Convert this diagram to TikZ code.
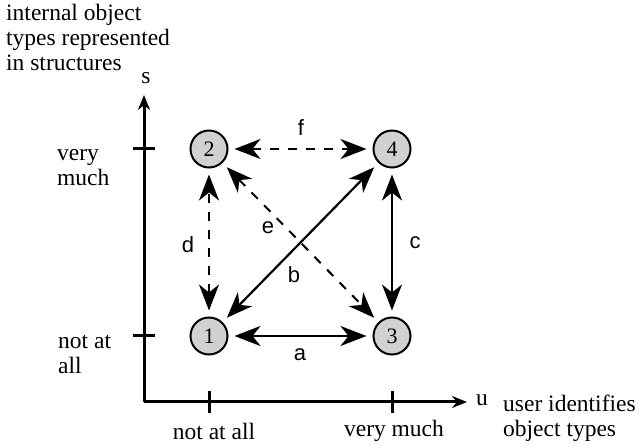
\documentclass[tikz,border=0pt]{standalone}
\usepackage{fontspec}
\setmainfont{Liberation Serif}
\newfontfamily\lblfont{Liberation Sans}
\usetikzlibrary{arrows.meta}
\begin{document}
\begin{tikzpicture}[x=1pt,y=-1pt,
  state/.style={circle,draw,line width=2pt,fill=black!18,minimum size=37pt,inner sep=0pt,
    font=\fontsize{22}{22}\selectfont,outer sep=7pt},
  axis/.style={line width=3pt},
  link/.style={line width=2.2pt,{Stealth[length=26pt,width=20pt,inset=8pt]}-{Stealth[length=26pt,width=20pt,inset=8pt]}},
  dlink/.style={link,line width=2pt,dash pattern=on 9pt off 9pt},
  elabel/.style={font=\lblfont\fontsize{22}{22}\selectfont},
  txt/.style={font=\fontsize{23.5}{25}\selectfont,align=left,inner sep=0pt}]
\useasboundingbox (0,0) rectangle (641,446);
% axes
\coordinate (O) at (144,402);
\coordinate (ytop) at (144,95);
\coordinate (xend) at (467,402);
\draw[axis,-{Stealth[length=15pt,width=12pt]}] (O) -- (ytop);
\draw[axis,-{Stealth[length=15pt,width=12pt]}] (O) -- (xend);
% ticks
\draw[axis] (209,391) -- (209,413);
\draw[axis] (392,391) -- (392,413);
\draw[axis] (133,149) -- (155,149);
\draw[axis] (133,336) -- (155,336);
% axis texts
\node[txt,anchor=north west] (ytitle) at (6,4) {internal object\\types represented\\in structures};
\node[txt] (s) at (146,78) {s};
\node[txt] (u) at (482,400) {u};
\node[txt,anchor=west] (xtitle) at (503,418) {user identifies\\object types};
\node[txt,anchor=west] (vm) at (57,168) {very\\much};
\node[txt,anchor=west] (na) at (58,355) {not at\\all};
\node[txt] (xna) at (214,431) {not at all};
\node[txt] (xvm) at (394,431) {very much};
% states
\node[state] (n1) at (209,336) {1};
\node[state] (n2) at (209,149) {2};
\node[state] (n3) at (392,336) {3};
\node[state] (n4) at (392,149) {4};
% transitions
\draw[link] (n1) -- (n3);
\draw[link] (n1) -- (n4);
\draw[link] (n3) -- (n4);
\draw[dlink] (n1) -- (n2);
\draw[dlink] (n2) -- (n3);
\draw[dlink] (n2) -- (n4);
% transition labels
\node[elabel] (la) at (300,355) {a};
\node[elabel] (lb) at (294,275) {b};
\node[elabel] (lc) at (415,243) {c};
\node[elabel] (ld) at (188,245) {d};
\node[elabel] (le) at (268,228) {e};
\node[elabel] (lf) at (301,128) {f};
\end{tikzpicture}
\end{document}
